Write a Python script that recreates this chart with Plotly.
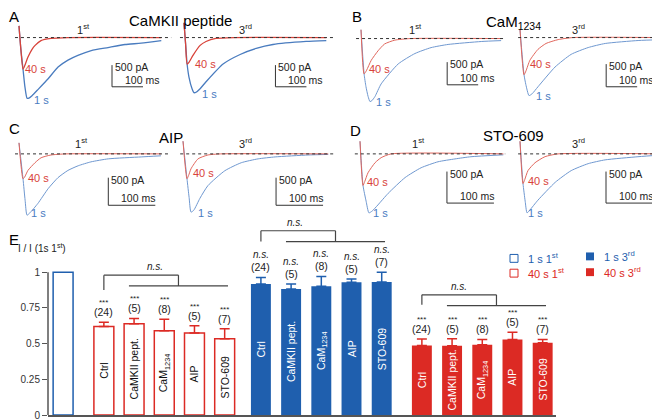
import plotly.graph_objects as go

W, H = 660, 420
FONT = "Arial, 'Liberation Sans', Helvetica, sans-serif"
BLUE = "#1f5fae"
RED = "#dc2a24"
GRAY = "#555555"

# ---------------- trace data (time in ms, current in pA) ----------------
A_1st_1s_t = [0, 6, 13, 19, 26, 32, 42, 61, 94, 126, 158, 190, 233, 287, 342, 394, 459]
A_1st_1s_i = [270, -270, -730, -1130, -1400, -1395, -1340, -1200, -950, -680, -520, -410, -300, -230, -160, -130, -70]
A_1st_40s_t = [0, 6, 13, 19, 29, 42, 52, 71, 103, 158, 459]
A_1st_40s_i = [270, -270, -730, -640, -450, -270, -180, -70, -20, 0, 0]
A_3rd_1s_t = [0, 6, 10, 16, 26, 32, 39, 52, 71, 126, 181, 233, 287, 394, 459]
A_3rd_1s_i = [340, -230, -610, -910, -1180, -1270, -1260, -1180, -1020, -610, -390, -250, -160, -90, -70]
A_3rd_40s_t = [0, 5, 10, 16, 29, 52, 71, 103, 160, 459]
A_3rd_40s_i = [340, -130, -610, -570, -410, -180, -90, -20, 0, 0]

B_1st_1s_t = [0, 10, 16, 23, 29, 35, 45, 65, 120, 174, 226, 281, 388, 452]
B_1st_1s_i = [195, -780, -1060, -1280, -1390, -1370, -1280, -1000, -560, -330, -200, -130, -65, -45]
B_1st_40s_t = [0, 10, 18, 33, 55, 76, 109, 160, 452]
B_1st_40s_i = [195, -780, -700, -480, -270, -120, -35, 0, 0]
B_3rd_1s_t = [0, 13, 19, 29, 39, 58, 113, 165, 220, 275, 381, 462]
B_3rd_1s_i = [175, -820, -1040, -1280, -1240, -1085, -650, -370, -220, -130, -65, -45]
B_3rd_40s_t = [0, 13, 19, 32, 58, 84, 123, 170, 462]
B_3rd_40s_i = [175, -820, -740, -500, -260, -130, -45, 0, 0]

C_1st_1s_t = [0, 8.5, 13, 17, 23, 40, 62, 83, 104, 126, 153, 190, 260, 302]
C_1st_1s_i = [200, -450, -840, -1110, -1070, -900, -630, -430, -300, -215, -145, -90, -55, -35]
C_1st_40s_t = [0, 8.5, 12, 19, 34, 47, 68, 100, 302]
C_1st_40s_i = [200, -450, -420, -300, -160, -70, -20, 0, 0]
C_3rd_1s_t = [0, 8.5, 13, 17, 23, 36, 53, 89, 124, 160, 196, 266, 309]
C_3rd_1s_i = [230, -450, -790, -1055, -1020, -805, -575, -305, -160, -90, -55, -20, -10]
C_3rd_40s_t = [0, 8.5, 12, 17, 32, 53, 80, 309]
C_3rd_40s_i = [230, -450, -390, -270, -90, -20, 0, 0]

D_1st_1s_t = [0, 6.4, 13, 19, 26, 38, 60, 96, 130, 166, 202, 236, 305]
D_1st_1s_i = [200, -500, -750, -935, -905, -810, -625, -375, -220, -125, -80, -45, -15]
D_1st_40s_t = [0, 6.4, 10, 17, 32, 45, 66, 305]
D_1st_40s_i = [200, -500, -440, -300, -140, -60, 0, 0]
D_3rd_1s_t = [0, 6.4, 11, 15, 21, 38, 75, 109, 145, 181, 251, 305]
D_3rd_1s_i = [200, -470, -750, -935, -890, -735, -450, -265, -155, -95, -45, -15]
D_3rd_40s_t = [0, 6.4, 10, 17, 32, 53, 81, 305]
D_3rd_40s_i = [200, -470, -410, -265, -140, -45, 0, 0]

# baseline (0 pA) extents, ms
baseline_t = {
    "A1": [-13, 491], "A2": [-13, 481], "B1": [-16, 465], "B2": [-6, 478],
    "C1": [-8.5, 317], "C2": [-6, 320], "D1": [-11, 309], "D2": [-4, 315],
}
scale_pA = 500
scale_ms = 100

# ---------------- bar data ----------------
categories = ["Ctrl", "CaMKII pept.", "CaM<sub>1234</sub>", "AIP", "STO-609"]
n_cells = [24, 5, 8, 5, 7]
ref_1s_1st = [1.0]
mean_40s_1st = [0.62, 0.64, 0.59, 0.575, 0.535]
err_40s_1st = [0.03, 0.036, 0.08, 0.05, 0.07]
mean_1s_3rd = [0.917, 0.883, 0.901, 0.929, 0.931]
err_1s_3rd = [0.046, 0.034, 0.069, 0.023, 0.069]
mean_40s_3rd = [0.487, 0.485, 0.492, 0.529, 0.506]
err_40s_3rd = [0.046, 0.05, 0.037, 0.05, 0.023]
sig_40s_1st = ["***"] * 5
sig_1s_3rd = ["<i>n.s.</i>"] * 5
sig_40s_3rd = ["***"] * 5

# ---------------- helpers ----------------
def px(x):
    return x / W


def py(y):
    return 1 - y / H


fig = go.Figure()
layout = {}
annotations = []
shapes = []


def lab(text, x, y, size=11, color="black", **kw):
    d = dict(text=text, x=px(x), y=py(y), xref="paper", yref="paper",
             showarrow=False, font=dict(family=FONT, size=size, color=color),
             xanchor="center", yanchor="middle")
    d.update(kw)
    annotations.append(d)


# panel geometry: pixel of t=0, pixel of baseline, ms/px, pA/px, scale-bar origin (ms, pA)
AB_sx = 100 / 31
CD_sx = 100 / 47
subplots = [
    ("A1", 11, 30, AB_sx, 500 / 22, (300, -1135), (A_1st_1s_t, A_1st_1s_i), (A_1st_40s_t, A_1st_40s_i), 1.3),
    ("A2", 176, 30, AB_sx, 500 / 22, (295, -1135), (A_3rd_1s_t, A_3rd_1s_i), (A_3rd_40s_t, A_3rd_40s_i), 1.3),
    ("B1", 353, 31, AB_sx, 500 / 23, (278, -1020), (B_1st_1s_t, B_1st_1s_i), (B_1st_40s_t, B_1st_40s_i), 1.0),
    ("B2", 512, 30, AB_sx, 500 / 23, (278, -1085), (B_3rd_1s_t, B_3rd_1s_i), (B_3rd_40s_t, B_3rd_40s_i), 1.0),
    ("C1", 11, 148, CD_sx, 500 / 28, (190, -931), (C_1st_1s_t, C_1st_1s_i), (C_1st_40s_t, C_1st_40s_i), 1.0),
    ("C2", 175, 148, CD_sx, 500 / 28, (198, -931), (C_3rd_1s_t, C_3rd_1s_i), (C_3rd_40s_t, C_3rd_40s_i), 1.0),
    ("D1", 352, 148, CD_sx, 500 / 32, (185, -780), (D_1st_1s_t, D_1st_1s_i), (D_1st_40s_t, D_1st_40s_i), 1.0),
    ("D2", 512, 148, CD_sx, 500 / 32, (183, -780), (D_3rd_1s_t, D_3rd_1s_i), (D_3rd_40s_t, D_3rd_40s_i), 1.0),
]

for k, (key, x0, yb, sx, sy, sb, blue_tr, red_tr, lw) in enumerate(subplots, start=1):
    sfx = "" if k == 1 else str(k)
    dL, dR = max(0, x0 - 12), min(W, x0 + 156)
    yT, yB = yb - 22, yb + 72
    layout["xaxis" + sfx] = dict(domain=[px(dL), px(dR)], range=[(dL - x0) * sx, (dR - x0) * sx],
                                 visible=False, anchor="y" + sfx, fixedrange=True)
    layout["yaxis" + sfx] = dict(domain=[py(yB), py(yT)], range=[(yb - yB) * sy, (yb - yT) * sy],
                                 visible=False, anchor="x" + sfx, fixedrange=True)
    bcol = "#4a7cbf" if lw > 1.2 else "#6f98d0"
    rcol = "#d8433a" if lw > 1.2 else "#e0665c"
    fig.add_trace(go.Scatter(x=blue_tr[0], y=blue_tr[1], xaxis="x" + sfx, yaxis="y" + sfx, mode="lines",
                             line=dict(color=bcol, width=lw, shape="spline", smoothing=0.55),
                             showlegend=False, hoverinfo="skip"))
    fig.add_trace(go.Scatter(x=red_tr[0], y=red_tr[1], xaxis="x" + sfx, yaxis="y" + sfx, mode="lines",
                             line=dict(color=rcol, width=lw, shape="spline", smoothing=0.55),
                             showlegend=False, hoverinfo="skip"))
    bt = baseline_t[key]
    fig.add_trace(go.Scatter(x=bt, y=[0, 0], xaxis="x" + sfx, yaxis="y" + sfx, mode="lines",
                             line=dict(color="#333333", width=1, dash="3px,3px"),
                             showlegend=False, hoverinfo="skip"))
    # scale bar
    tb, ib = sb
    shapes.append(dict(type="line", xref="x" + sfx, yref="y" + sfx, x0=tb, x1=tb, y0=ib, y1=ib + scale_pA,
                       line=dict(color="#333333", width=1)))
    shapes.append(dict(type="line", xref="x" + sfx, yref="y" + sfx, x0=tb, x1=tb + scale_ms, y0=ib, y1=ib,
                       line=dict(color="#333333", width=1)))
    annotations.append(dict(text=f"{scale_pA} pA", x=tb, y=ib + scale_pA, xref="x" + sfx, yref="y" + sfx,
                            showarrow=False, xanchor="left", yanchor="middle", xshift=1, yshift=-2,
                            font=dict(family=FONT, size=10.5, color="#222")))
    annotations.append(dict(text=f"{scale_ms} ms", x=tb, y=ib, xref="x" + sfx, yref="y" + sfx,
                            showarrow=False, xanchor="right", yanchor="middle", xshift=49, yshift=7,
                            font=dict(family=FONT, size=10.5, color="#222")))

# panel letters, titles, labels (pixel positions)
lab("A", 6, 9, 15)
lab("B", 349, 9, 15)
lab("C", 6, 122, 15)
lab("D", 348, 124, 15)
lab("E", 6, 235, 15)
lab("CaMKII peptide", 172, 13, 15)
lab("CaM<sub>1234</sub>", 505, 15, 15)
lab("AIP", 163, 131, 15)
lab("STO-609", 505, 129, 15)
for (x, y, t) in [(75, 21, "1<sup>st</sup>"), (237, 21, "3<sup>rd</sup>"), (407, 21, "1<sup>st</sup>"),
                  (570, 21, "3<sup>rd</sup>"), (73, 137, "1<sup>st</sup>"), (237, 137, "3<sup>rd</sup>"),
                  (410, 137, "1<sup>st</sup>"), (570, 137, "3<sup>rd</sup>")]:
    lab(t, x, y, 11, "#222")
for (x, y) in [(27, 62), (197, 57), (371, 62), (532, 57), (30, 172), (195, 167), (369, 177), (530, 175)]:
    lab("40 s", x, y, 11, "#d8433a")
for (x, y) in [(33, 93), (201, 87), (375, 95), (535, 89), (31, 208), (197, 208), (372, 208), (527, 208)]:
    lab("1 s", x, y, 11, "#4a7cbf")

# ---------------- bar chart (E) ----------------
SLOT = 30.2
X0P, X1P = 40, 548
YB0, YPX = 413, 145
YMAX = 1.4
layout["xaxis9"] = dict(domain=[px(X0P), px(X1P)], range=[0, (X1P - X0P) / SLOT], anchor="y9",
                        showline=True, linecolor=GRAY, linewidth=1.5, ticks="", showticklabels=False,
                        showgrid=False, zeroline=False, fixedrange=True)
layout["yaxis9"] = dict(domain=[py(YB0), py(YB0 - YMAX * YPX)], range=[0, YMAX], anchor="x9",
                        tickvals=[0, 0.25, 0.5, 0.75, 1], ticktext=["0", "0.25", "0.5", "0.75", "1"],
                        ticks="outside", ticklen=5, tickcolor=GRAY, tickwidth=1.2, showline=False,
                        showgrid=False, zeroline=False, tickfont=dict(family=FONT, size=10, color="#333"),
                        fixedrange=True)
shapes.append(dict(type="line", xref="paper", yref="y9", x0=px(X0P), x1=px(X0P), y0=0, y1=1,
                   line=dict(color=GRAY, width=1.5)))

pos_ref = [0.5]
pos_r1 = [1.85 + i for i in range(5)]
pos_b3 = [7.05 + i for i in range(5)]
pos_r3 = [12.38 + i for i in range(5)]
BW = 0.66

fig.add_trace(go.Bar(x=pos_ref, y=ref_1s_1st, width=BW, xaxis="x9", yaxis="y9",
                     marker=dict(color="white", line=dict(color=BLUE, width=1.5)), showlegend=False))
for pos, mean, err, col, fill in [(pos_r1, mean_40s_1st, err_40s_1st, RED, False),
                                  (pos_b3, mean_1s_3rd, err_1s_3rd, BLUE, True),
                                  (pos_r3, mean_40s_3rd, err_40s_3rd, RED, True)]:
    fig.add_trace(go.Bar(x=pos, y=mean, width=BW, xaxis="x9", yaxis="y9",
                         marker=dict(color=col if fill else "white", line=dict(color=col, width=0 if fill else 1.5)),
                         error_y=dict(type="data", symmetric=False, array=err, arrayminus=[0] * len(err),
                                      color=col, thickness=1.5, width=5),
                         showlegend=False))

for pos, mean, err, sig, fill in [(pos_r1, mean_40s_1st, err_40s_1st, sig_40s_1st, False),
                                  (pos_b3, mean_1s_3rd, err_1s_3rd, sig_1s_3rd, True),
                                  (pos_r3, mean_40s_3rd, err_40s_3rd, sig_40s_3rd, True)]:
    for i in range(5):
        top = mean[i] + err[i]
        annotations.append(dict(text=f"({n_cells[i]})", x=pos[i], y=top, xref="x9", yref="y9",
                                showarrow=False, yanchor="bottom", yshift=2,
                                font=dict(family=FONT, size=10.5, color="#222")))
        is_ns = "n.s." in sig[i]
        annotations.append(dict(text=sig[i], x=pos[i], y=top, xref="x9", yref="y9",
                                showarrow=False, yanchor="bottom", yshift=15 if is_ns else 13,
                                font=dict(family=FONT, size=10 if is_ns else 8, color="#222")))
        annotations.append(dict(text=categories[i], x=pos[i], y=mean[i] / 2, xref="x9", yref="y9",
                                showarrow=False, textangle=-90, xanchor="center", yanchor="middle",
                                font=dict(family=FONT, size=10.5, color="white" if fill else "#111")))

# significance brackets
def yv(ypix):
    return (YB0 - ypix) / YPX


def bracket(pos, y_top, y_leg, y_low, label_dx):
    left = pos[0]
    lo0, lo1 = pos[1] - 0.17, pos[4] + 0.11
    mid = (lo0 + lo1) / 2
    c = dict(color="#444", width=1.2)
    shapes.append(dict(type="line", xref="x9", yref="y9", x0=left, x1=left, y0=y_leg, y1=y_top, line=c))
    shapes.append(dict(type="line", xref="x9", yref="y9", x0=left, x1=mid, y0=y_top, y1=y_top, line=c))
    shapes.append(dict(type="line", xref="x9", yref="y9", x0=mid, x1=mid, y0=y_top, y1=y_low, line=c))
    shapes.append(dict(type="line", xref="x9", yref="y9", x0=lo0, x1=lo1, y0=y_low, y1=y_low, line=c))
    annotations.append(dict(text="<i>n.s.</i>", x=(left + mid) / 2 + label_dx, y=y_top, xref="x9", yref="y9",
                            showarrow=False, yanchor="bottom", yshift=1,
                            font=dict(family=FONT, size=10, color="#222")))


bracket(pos_r1, yv(271), yv(286), yv(282), 0.45)
bracket(pos_b3, yv(226), yv(237), yv(237), -0.1)
bracket(pos_r3, yv(291), yv(301), yv(302), 0.0)

# y-axis title
lab("I / I (1s 1<sup>st</sup>)", 8, 243, 10, "#222", xanchor="left")

# legend
for (cx, cy, col, fill, txt) in [(506, 254, BLUE, False, "1 s 1<sup>st</sup>"),
                                 (506, 269, RED, False, "40 s 1<sup>st</sup>"),
                                 (582, 252, BLUE, True, "1 s 3<sup>rd</sup>"),
                                 (582, 268, RED, True, "40 s 3<sup>rd</sup>")]:
    shapes.append(dict(type="rect", xref="paper", yref="paper", x0=px(cx - 4), x1=px(cx + 4),
                       y0=py(cy + 4), y1=py(cy - 4), fillcolor=col if fill else "white",
                       line=dict(color=col, width=0 if fill else 1)))
    lab(txt, cx + 12, cy, 11, col, xanchor="left")

fig.update_layout(width=W, height=H, autosize=False, margin=dict(l=0, r=0, t=0, b=0),
                  paper_bgcolor="white", plot_bgcolor="rgba(0,0,0,0)", barmode="overlay",
                  showlegend=False, font=dict(family=FONT), annotations=annotations, shapes=shapes,
                  **layout)
fig.write_html("out.html")
